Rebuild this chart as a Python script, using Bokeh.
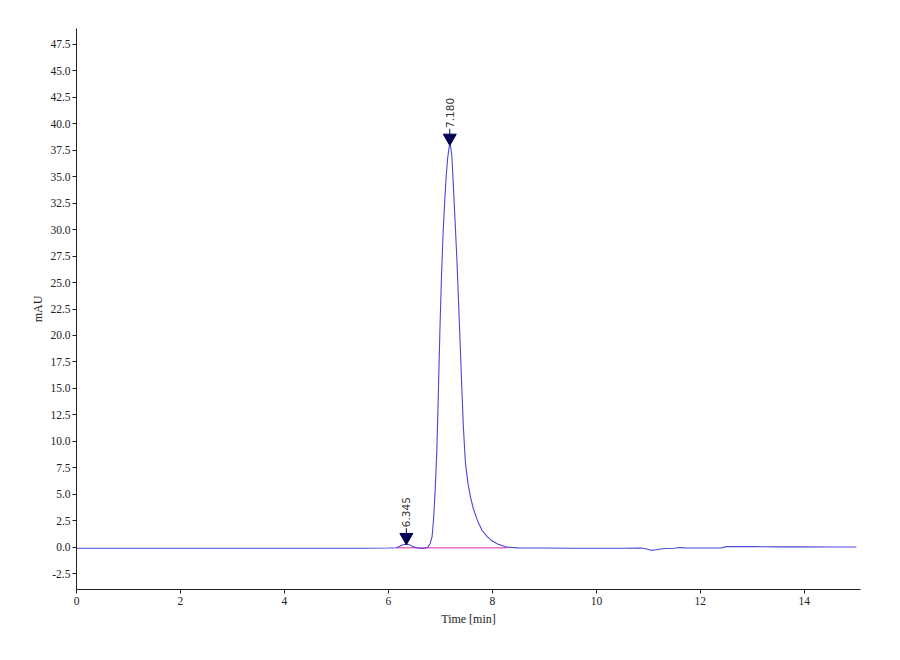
import numpy as np
from bokeh.plotting import figure
from bokeh.models import Range1d, FixedTicker, ColumnDataSource, CustomJSTickFormatter
from bokeh.core.properties import value
from bokeh.embed import file_html
from bokeh.resources import INLINE

# ---- data ----
time_min = [0.0, 0.5, 1.0, 1.5, 2.0, 2.5, 3.0, 3.5, 4.0, 4.5, 5.0, 5.5, 6.0, 6.15,
            6.25, 6.3, 6.35, 6.4, 6.47, 6.55, 6.65, 6.75, 6.80, 6.84, 6.87, 6.90,
            6.93, 6.96, 6.99, 7.02, 7.05, 7.08, 7.11, 7.14, 7.17, 7.19, 7.22, 7.26,
            7.29, 7.32, 7.35, 7.37, 7.40, 7.44, 7.48, 7.53, 7.58, 7.63, 7.67, 7.73,
            7.80, 7.90, 7.99, 8.10, 8.28, 8.5, 9.0, 9.5, 10.0, 10.5, 10.85, 10.95,
            11.05, 11.15, 11.3, 11.5, 11.6, 11.7, 12.0, 12.4, 12.5, 13.0, 13.5, 14.0,
            14.5, 15.0]
signal_mau = [-0.1, -0.1, -0.1, -0.1, -0.1, -0.1, -0.1, -0.1, -0.1, -0.1, -0.1, -0.1,
              -0.08, -0.05, 0.15, 0.25, 0.28, 0.22, 0.05, -0.08, -0.12, -0.05, 0.3,
              1.0, 2.8, 5.5, 9.0, 14.5, 20.5, 25.5, 29.5, 32.5, 35.0, 36.8, 37.9,
              38.0, 37.0, 33.0, 30.0, 26.8, 23.0, 20.5, 16.5, 11.5, 8.0, 6.0, 4.7,
              3.7, 3.1, 2.3, 1.6, 1.0, 0.6, 0.3, 0.0, -0.07, -0.08, -0.1, -0.1, -0.1,
              -0.08, -0.15, -0.3, -0.25, -0.12, -0.1, -0.03, -0.07, -0.08, -0.08,
              0.05, 0.05, 0.03, 0.03, 0.02, 0.02]

peak_times = [6.345, 7.180]
peak_heights = [0.28, 38.0]
peak_labels = ["6.345", "7.180"]

baseline_start = 6.15
baseline_end = 8.28
baseline_level = -0.05

x_ticks = [0, 2, 4, 6, 8, 10, 12, 14]
y_ticks = [-2.5, 0.0, 2.5, 5.0, 7.5, 10.0, 12.5, 15.0, 17.5, 20.0, 22.5, 25.0,
           27.5, 30.0, 32.5, 35.0, 37.5, 40.0, 42.5, 45.0, 47.5]

# ---- figure ----
p = figure(width=880, height=640, output_backend="svg", toolbar_location=None,
           x_range=Range1d(0, 15.08), y_range=Range1d(-4, 49),
           min_border_left=76, min_border_right=20, min_border_top=28,
           min_border_bottom=51)
p.outline_line_color = None
p.xgrid.visible = False
p.ygrid.visible = False
p.background_fill_color = "white"
p.border_fill_color = "white"

serif = "Liberation Serif"
for ax in (p.xaxis[0], p.yaxis[0]):
    ax.axis_line_color = "#222222"
    ax.axis_line_width = 1
    ax.major_tick_line_color = "#222222"
    ax.major_tick_out = 4
    ax.major_tick_in = 0
    ax.minor_tick_line_color = None
    ax.major_label_text_font = serif
    ax.major_label_text_font_size = "11.5px"
    ax.major_label_text_color = "#222222"
    ax.axis_label_text_font = serif
    ax.axis_label_text_font_size = "12px"
    ax.axis_label_text_font_style = "normal"
    ax.axis_label_text_color = "#222222"

p.xaxis.ticker = FixedTicker(ticks=x_ticks)
p.yaxis.ticker = FixedTicker(ticks=y_ticks)
p.yaxis.formatter = CustomJSTickFormatter(code="return tick.toFixed(1);")
p.xaxis.major_label_standoff = 3
p.yaxis.major_label_standoff = 2
p.xaxis.axis_label = "Time [min]"
p.yaxis.axis_label = "mAU"
p.xaxis.axis_label_standoff = 4
p.yaxis.axis_label_standoff = 2

# baseline (pink)
p.segment(x0=[baseline_start], y0=[baseline_level], x1=[baseline_end], y1=[baseline_level],
          line_color="#f070c0", line_width=1.4)

# trace
p.line(time_min, signal_mau, line_color="#4848d8", line_width=1.1)

# peak markers
px_per_mau = 561.0 / 53.0
tri_off = 7.0 / px_per_mau
src = ColumnDataSource(dict(
    x=peak_times,
    y=peak_heights,
    ytri=[h + tri_off for h in peak_heights],
    ytop=[h + 16.0 / px_per_mau for h in peak_heights],
    label=peak_labels,
))
p.segment(x0="x", y0="ytri", x1="x", y1="ytop", source=src,
          line_color="#000050", line_width=1)
p.scatter(x="x", y="ytri", source=src, marker="inverted_triangle", size=13,
          fill_color="#000050", line_color="#000050")
p.text(x="x", y="y", text="label", source=src, angle=np.pi / 2,
       y_offset=-17, text_align="left", text_baseline="middle",
       text_font=value("DejaVu Sans"), text_font_size="10.5px",
       text_color="#333333")

open("out.html", "w").write(file_html(p, INLINE))
